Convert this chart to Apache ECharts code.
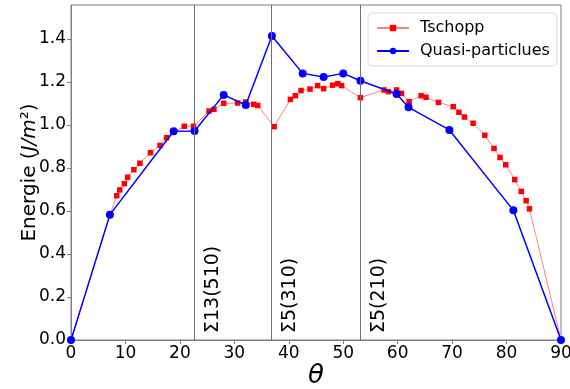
<!DOCTYPE html>
<html>
<head>
<meta charset="utf-8">
<script src="https://cdn.jsdelivr.net/npm/echarts@6/dist/echarts.min.js"></script>
<style>
html,body{margin:0;padding:0;background:#fff;}
#chart{width:570px;height:389px;}
</style>
</head>
<body>
<div id="chart"></div>
<script>
// Tschopp series
const thetaTschopp = [0, 7.2, 8.4, 8.95, 9.8, 10.4, 11.55, 12.65, 14.6, 16.35, 17.55, 18.8, 20.8, 22.5, 25.35, 26.25, 28.05, 30.6, 32.1, 33.55, 34.3, 37.3, 40.3, 41.2, 42.25, 43.9, 45.3, 46.4, 48.05, 49.0, 49.7, 53.15, 57.5, 58.3, 59.8, 60.7, 62.1, 64.3, 65.2, 67.5, 70.2, 71.25, 72.25, 73.85, 76.0, 77.7, 78.8, 79.85, 81.5, 82.7, 83.6, 84.2, 90];
const energyTschopp = [0, 0.585, 0.671, 0.698, 0.727, 0.757, 0.792, 0.822, 0.871, 0.905, 0.941, 0.967, 0.994, 0.994, 1.065, 1.073, 1.101, 1.102, 1.107, 1.096, 1.091, 0.992, 1.119, 1.136, 1.160, 1.167, 1.183, 1.169, 1.185, 1.192, 1.183, 1.127, 1.163, 1.155, 1.163, 1.147, 1.108, 1.136, 1.129, 1.105, 1.085, 1.059, 1.037, 1.008, 0.952, 0.891, 0.849, 0.815, 0.746, 0.691, 0.648, 0.610, 0];
// Quasi-particle series
const thetaQP = [0, 7.15, 18.85, 22.7, 28.05, 32.1, 36.9, 42.55, 46.4, 50.0, 53.15, 59.8, 62.0, 69.5, 81.25, 90];
const energyQP = [0, 0.583, 0.971, 0.972, 1.140, 1.093, 1.414, 1.240, 1.223, 1.240, 1.206, 1.144, 1.082, 0.977, 0.603, 0];
// Special grain boundaries
const gbAngles = [22.62, 36.87, 53.13];
const gbLabels = ['Σ13(510)', 'Σ5(310)', 'Σ5(210)'];
const xTicks = [0, 10, 20, 30, 40, 50, 60, 70, 80, 90];
const yTicks = ['0.0', '0.2', '0.4', '0.6', '0.8', '1.0', '1.2', '1.4'];

const FONT = 'DejaVu Sans';
const zip = (a, b) => a.map((v, i) => [v, b[i]]);

const chart = echarts.init(document.getElementById('chart'));
chart.setOption({
  animation: false,
  backgroundColor: '#fff',
  textStyle: {fontFamily: FONT},
  grid: {left: 71, right: 9, top: 5, bottom: 49, containLabel: false, outerBoundsMode: 'none',
    show: true, borderColor: '#808080', borderWidth: 1, backgroundColor: 'transparent'},
  legend: {
    orient: 'vertical',
    left: 368, top: 13,
    backgroundColor: '#fff',
    borderColor: '#dcdcdc', borderWidth: 1, borderRadius: 4,
    padding: [7, 7, 7, 8],
    itemWidth: 32, itemHeight: 8, itemGap: 7,
    textStyle: {fontFamily: FONT, fontSize: 16, color: '#000', padding: [0, 0, 0, 6]},
    data: ['Tschopp', 'Quasi-particlues']
  },
  xAxis: {
    type: 'value', min: 0, max: 90, interval: 10,
    name: 'θ', nameLocation: 'middle', nameGap: 23, nameMoveOverlap: false,
    nameTextStyle: {fontFamily: FONT, fontSize: 26, fontStyle: 'italic', color: '#000'},
    axisLine: {show: true, lineStyle: {color: '#808080'}},
    axisTick: {show: true, length: 4, inside: false, lineStyle: {color: '#808080'}},
    axisLabel: {fontFamily: FONT, fontSize: 17, color: '#000', margin: 5,
      formatter: v => xTicks.includes(v) ? String(v) : ''},
    splitLine: {show: false}
  },
  yAxis: {
    type: 'value', min: 0, max: 1.558, interval: 0.2,
    name: '{n|Energie (}{i|J/m}{n|²)}', nameLocation: 'middle', nameGap: 31, nameRotate: 90, nameMoveOverlap: false,
    nameTextStyle: {rich: {
      n: {fontFamily: FONT, fontSize: 20, color: '#000'},
      i: {fontFamily: FONT, fontSize: 20, fontStyle: 'italic', color: '#000'}
    }},
    axisLine: {show: true, lineStyle: {color: '#808080'}},
    axisTick: {show: true, length: 4, inside: false, lineStyle: {color: '#808080'}},
    axisLabel: {fontFamily: FONT, fontSize: 17, color: '#000', margin: 5, showMaxLabel: false,
      formatter: v => { const s = v.toFixed(1); return yTicks.includes(s) && Math.abs(v - parseFloat(s)) < 1e-6 ? s : ''; }},
    splitLine: {show: false}
  },
  series: [
    {
      name: 'Tschopp', type: 'line',
      data: zip(thetaTschopp, energyTschopp),
      symbol: 'rect', symbolSize: 5.5, showAllSymbol: true,
      lineStyle: {color: '#ff8080', width: 1},
      itemStyle: {color: '#ff0000'},
      markLine: {
        silent: true, symbol: 'none',
        lineStyle: {color: '#707070', width: 1, type: 'solid'},
        label: {show: true, position: 'insideStartBottom', distance: [7, 9],
          fontFamily: FONT, fontSize: 19, color: '#000',
          formatter: p => gbLabels[gbAngles.indexOf(p.value)]},
        data: gbAngles.map(a => ({xAxis: a}))
      },
      z: 2
    },
    {
      name: 'Quasi-particlues', type: 'line',
      data: zip(thetaQP, energyQP),
      symbol: 'circle', symbolSize: 8, showAllSymbol: true,
      lineStyle: {color: '#0000ff', width: 1.5},
      itemStyle: {color: '#0000ff'},
      z: 3
    }
  ]
});
</script>
</body>
</html>
